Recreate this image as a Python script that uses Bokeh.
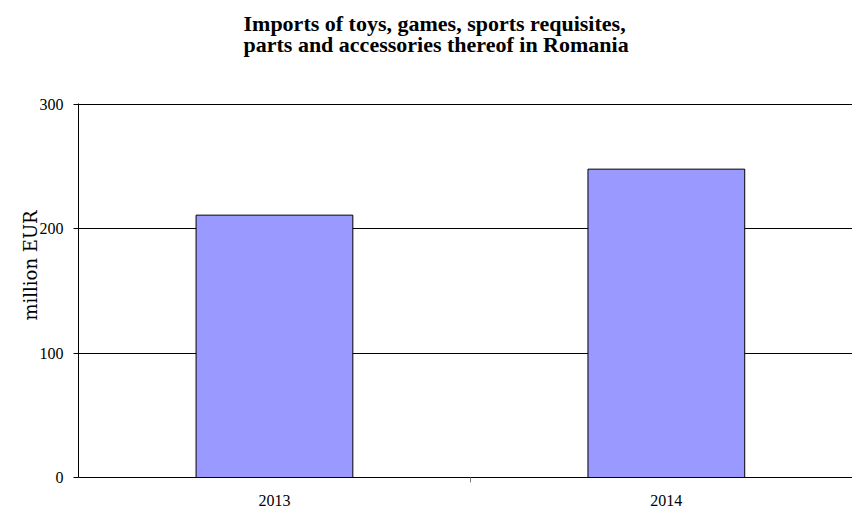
from bokeh.plotting import figure
from bokeh.models import Range1d, FixedTicker, Title
from bokeh.embed import file_html
from bokeh.resources import INLINE

years = ["2013", "2014"]
imports = [211, 248]
y_ticks = [0, 100, 200, 300]
title_lines = ["Imports of toys, games, sports requisites,",
               "parts and accessories thereof in Romania"]
y_label = "million EUR"

x_pos = [i + 0.5 for i in range(len(years))]
FONT = "Liberation Serif"

p = figure(width=852, height=510, output_backend="svg", toolbar_location=None,
           x_range=Range1d(0, 1.975), y_range=Range1d(0, 300.8),
           min_border_left=78, min_border_right=0, min_border_top=103, min_border_bottom=33,
           background_fill_color="white", border_fill_color="white")
p.outline_line_color = None

p.vbar(x=x_pos, top=imports, width=0.4, fill_color="#9999FF", line_color="black", line_width=1)

# spacer panel between title and plot frame
spacer = Title(text=" ", text_font_size="1px", standoff=42)
p.add_layout(spacer, "above")

t = Title(text="\n".join(title_lines), align="left", offset=165, vertical_align="top",
          text_font=FONT, text_font_size="22px", text_font_style="bold",
          text_color="black", standoff=0, text_line_height=0.85)
p.add_layout(t, "above")

yt = Title(text=y_label, align="left", offset=157, vertical_align="bottom",
           text_font="DejaVu Serif", text_font_size="18px", text_font_style="normal",
           text_color="black", standoff=-8)
p.add_layout(yt, "left")

p.xgrid.grid_line_color = None
p.ygrid.grid_line_color = "black"
p.ygrid.grid_line_width = 1
p.ygrid.ticker = FixedTicker(ticks=y_ticks)

p.yaxis.ticker = FixedTicker(ticks=y_ticks)
p.yaxis.major_label_text_font = FONT
p.yaxis.major_label_text_font_size = "16px"
p.yaxis.major_label_text_color = "black"
p.yaxis.major_label_standoff = 10
p.yaxis.major_tick_out = 5
p.yaxis.major_tick_in = 0
p.yaxis.minor_tick_line_color = None
p.yaxis.axis_line_color = "black"
p.yaxis.major_tick_line_color = "black"

p.xaxis.ticker = FixedTicker(ticks=x_pos, minor_ticks=[1.0])
p.xaxis.major_label_overrides = dict(zip(x_pos, years))
p.xaxis.major_label_text_font = FONT
p.xaxis.major_label_text_font_size = "16px"
p.xaxis.major_label_text_color = "black"
p.xaxis.major_tick_line_color = None
p.xaxis.major_tick_out = 0
p.xaxis.major_tick_in = 0
p.xaxis.minor_tick_out = 5
p.xaxis.minor_tick_in = 0
p.xaxis.minor_tick_line_color = "gray"
p.xaxis.axis_line_color = "black"
p.xaxis.major_label_standoff = 12

open("out.html", "w").write(file_html(p, INLINE))
